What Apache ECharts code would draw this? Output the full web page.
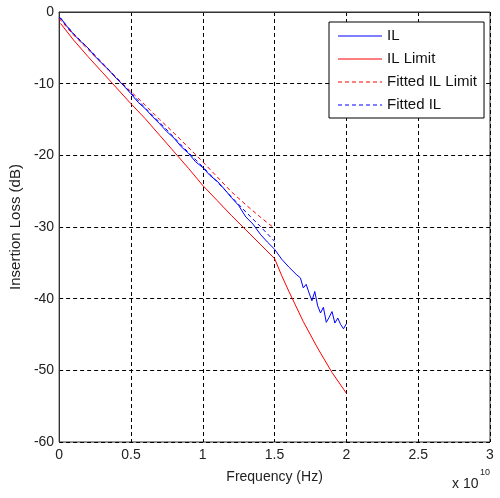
<!DOCTYPE html>
<html>
<head>
<meta charset="utf-8">
<script src="https://cdn.jsdelivr.net/npm/echarts@6/dist/echarts.min.js"></script>
<style>html,body{margin:0;padding:0;background:#fff;}#c{width:500px;height:498px;}</style>
</head>
<body>
<div id="c"></div>
<script>
// Frequency in units of 1e10 Hz, values in dB
const ilFreq = [0.01,0.05,0.1,0.15,0.2,0.25,0.3,0.35,0.4,0.45,0.5,0.55,0.6,0.65,0.7,0.75,0.8,0.85,0.9,0.95,1.0,1.05,1.1,1.15,1.2,1.25,1.3,1.35,1.4,1.45,1.5,1.55,1.6,1.65,1.68,1.7,1.72,1.74,1.76,1.78,1.8,1.82,1.84,1.86,1.88,1.9,1.92,1.94,1.96,1.98,2.0];
const ilValues = [-0.8,-1.9,-3.1,-4.1,-5.0,-6.2,-7.2,-8.2,-9.3,-10.3,-11.4,-12.6,-13.5,-14.6,-15.6,-16.7,-17.6,-18.8,-19.7,-20.9,-21.7,-22.8,-23.6,-24.7,-25.9,-27.0,-28.6,-29.6,-31.0,-32.1,-33.1,-34.5,-35.6,-36.6,-37.1,-38.5,-38.0,-39.2,-40.3,-39.0,-41.0,-42.0,-41.2,-43.3,-42.6,-41.8,-43.4,-42.7,-43.6,-44.2,-43.5];

const limitFreq = [0.01,0.1,0.2,0.3,0.4,0.5,0.6,0.7,0.8,0.9,1.0,1.1,1.2,1.3,1.4,1.5,1.55,1.6,1.7,1.8,1.9,2.0];
const limitValues = [-1.6,-3.9,-6.2,-8.4,-10.6,-12.8,-14.9,-17.2,-19.5,-21.8,-24.2,-26.3,-28.4,-30.4,-32.4,-34.4,-36.8,-39.0,-43.2,-46.9,-50.3,-53.2];

const fitFreq = [0,0.1,0.2,0.3,0.4,0.5,0.6,0.7,0.8,0.9,1.0,1.1,1.2,1.3,1.4,1.5];
const fittedLimitValues = [-0.9,-3.2,-5.2,-7.2,-9.2,-11.1,-13.0,-15.0,-16.9,-18.9,-20.9,-23.0,-25.1,-26.9,-28.6,-30.2];
const fittedILValues = [-0.7,-3.0,-5.0,-7.1,-9.2,-11.3,-13.4,-15.4,-17.5,-19.6,-21.6,-23.7,-25.8,-27.9,-29.9,-32.0];

const xTicks = [0,0.5,1,1.5,2,2.5,3];
const yTicks = [-60,-50,-40,-30,-20,-10,0];

const seriesNames = ['IL','IL Limit','Fitted IL Limit','Fitted IL'];
const seriesColors = ['#0000ff','#ff0000','#ff0000','#0000ff'];
const seriesDash = ['solid','solid',[4,3],[4,3]];

function pairs(xs, ys){ return xs.map((x,i)=>[x, ys[i]]); }

// legend icon: a thin horizontal bar (solid or dashed) inside a 44x14 box
const IW = 44, IH = 14;
function legendIcon(dash){
  let p = 'path://M0,0h0.01v0.01h-0.01z M' + (IW-0.01) + ',' + (IH-0.01) + 'h0.01v0.01h-0.01z';
  if (dash === 'solid') {
    p += ' M0,7h' + IW + 'v1h-' + IW + 'z';
  } else {
    for (let x = 0; x < IW; x += dash[0] + dash[1]) {
      const w = Math.min(dash[0], IW - x);
      p += ' M' + x + ',7h' + w + 'v1h-' + w + 'z';
    }
  }
  return p;
}

const FONT = 'Liberation Sans, Arial, sans-serif';
const chart = echarts.init(document.getElementById('c'), null, {renderer:'canvas'});
chart.setOption({
  animation: false,
  backgroundColor: '#fff',
  grid: {left: 58, right: 10, top: 12, bottom: 56, show: true, borderColor: '#333', borderWidth: 1},
  xAxis: {
    type: 'value', min: xTicks[0], max: xTicks[xTicks.length-1], interval: 0.5,
    name: 'Frequency (Hz)', nameLocation: 'middle', nameGap: 28,
    nameTextStyle: {fontFamily: FONT, fontSize: 14, color: '#222'},
    axisLine: {show: true, lineStyle: {color: '#333', width: 1}},
    axisTick: {show: false},
    axisLabel: {fontFamily: FONT, fontSize: 14, color: '#222', margin: 6, formatter: v => String(v)},
    splitLine: {show: true, lineStyle: {color: '#000', type: [4,3], width: 1}}
  },
  yAxis: {
    type: 'value', min: yTicks[0], max: yTicks[yTicks.length-1], interval: 10,
    name: 'Insertion Loss (dB)', nameLocation: 'middle', nameGap: 34,
    nameTextStyle: {fontFamily: FONT, fontSize: 15, color: '#222'},
    axisLine: {show: true, lineStyle: {color: '#333', width: 1}},
    axisTick: {show: false},
    axisLabel: {fontFamily: FONT, fontSize: 14, color: '#222', margin: 5},
    splitLine: {show: true, lineStyle: {color: '#000', type: [4,3], width: 1}}
  },
  legend: {
    orient: 'vertical', left: 329, top: 22, padding: [6,7,6,9],
    itemWidth: IW, itemHeight: IH, itemGap: 8,
    borderColor: '#000', borderWidth: 1, backgroundColor: '#fff',
    textStyle: {fontFamily: FONT, fontSize: 15, color: '#111'},
    data: seriesNames.map((n,i)=>({name: n, icon: legendIcon(seriesDash[i]), itemStyle: {color: seriesColors[i], borderWidth: 0}}))
  },
  graphic: [
    {type: 'text', left: 452, top: 477, style: {text: 'x 10', font: '14px ' + FONT, fill: '#222'}},
    {type: 'text', left: 480, top: 468, style: {text: '10', font: '9px ' + FONT, fill: '#222'}}
  ],
  series: [
    {name: seriesNames[0], type: 'line', symbol: 'none', data: pairs(ilFreq, ilValues), lineStyle: {color: seriesColors[0], width: 1, type: seriesDash[0]}, itemStyle: {color: seriesColors[0]}},
    {name: seriesNames[1], type: 'line', symbol: 'none', data: pairs(limitFreq, limitValues), lineStyle: {color: seriesColors[1], width: 1, type: seriesDash[1]}, itemStyle: {color: seriesColors[1]}},
    {name: seriesNames[2], type: 'line', symbol: 'none', data: pairs(fitFreq, fittedLimitValues), lineStyle: {color: seriesColors[2], width: 1, type: seriesDash[2]}, itemStyle: {color: seriesColors[2]}},
    {name: seriesNames[3], type: 'line', symbol: 'none', data: pairs(fitFreq, fittedILValues), lineStyle: {color: seriesColors[3], width: 1, type: seriesDash[3]}, itemStyle: {color: seriesColors[3]}}
  ]
});
</script>
</body>
</html>
